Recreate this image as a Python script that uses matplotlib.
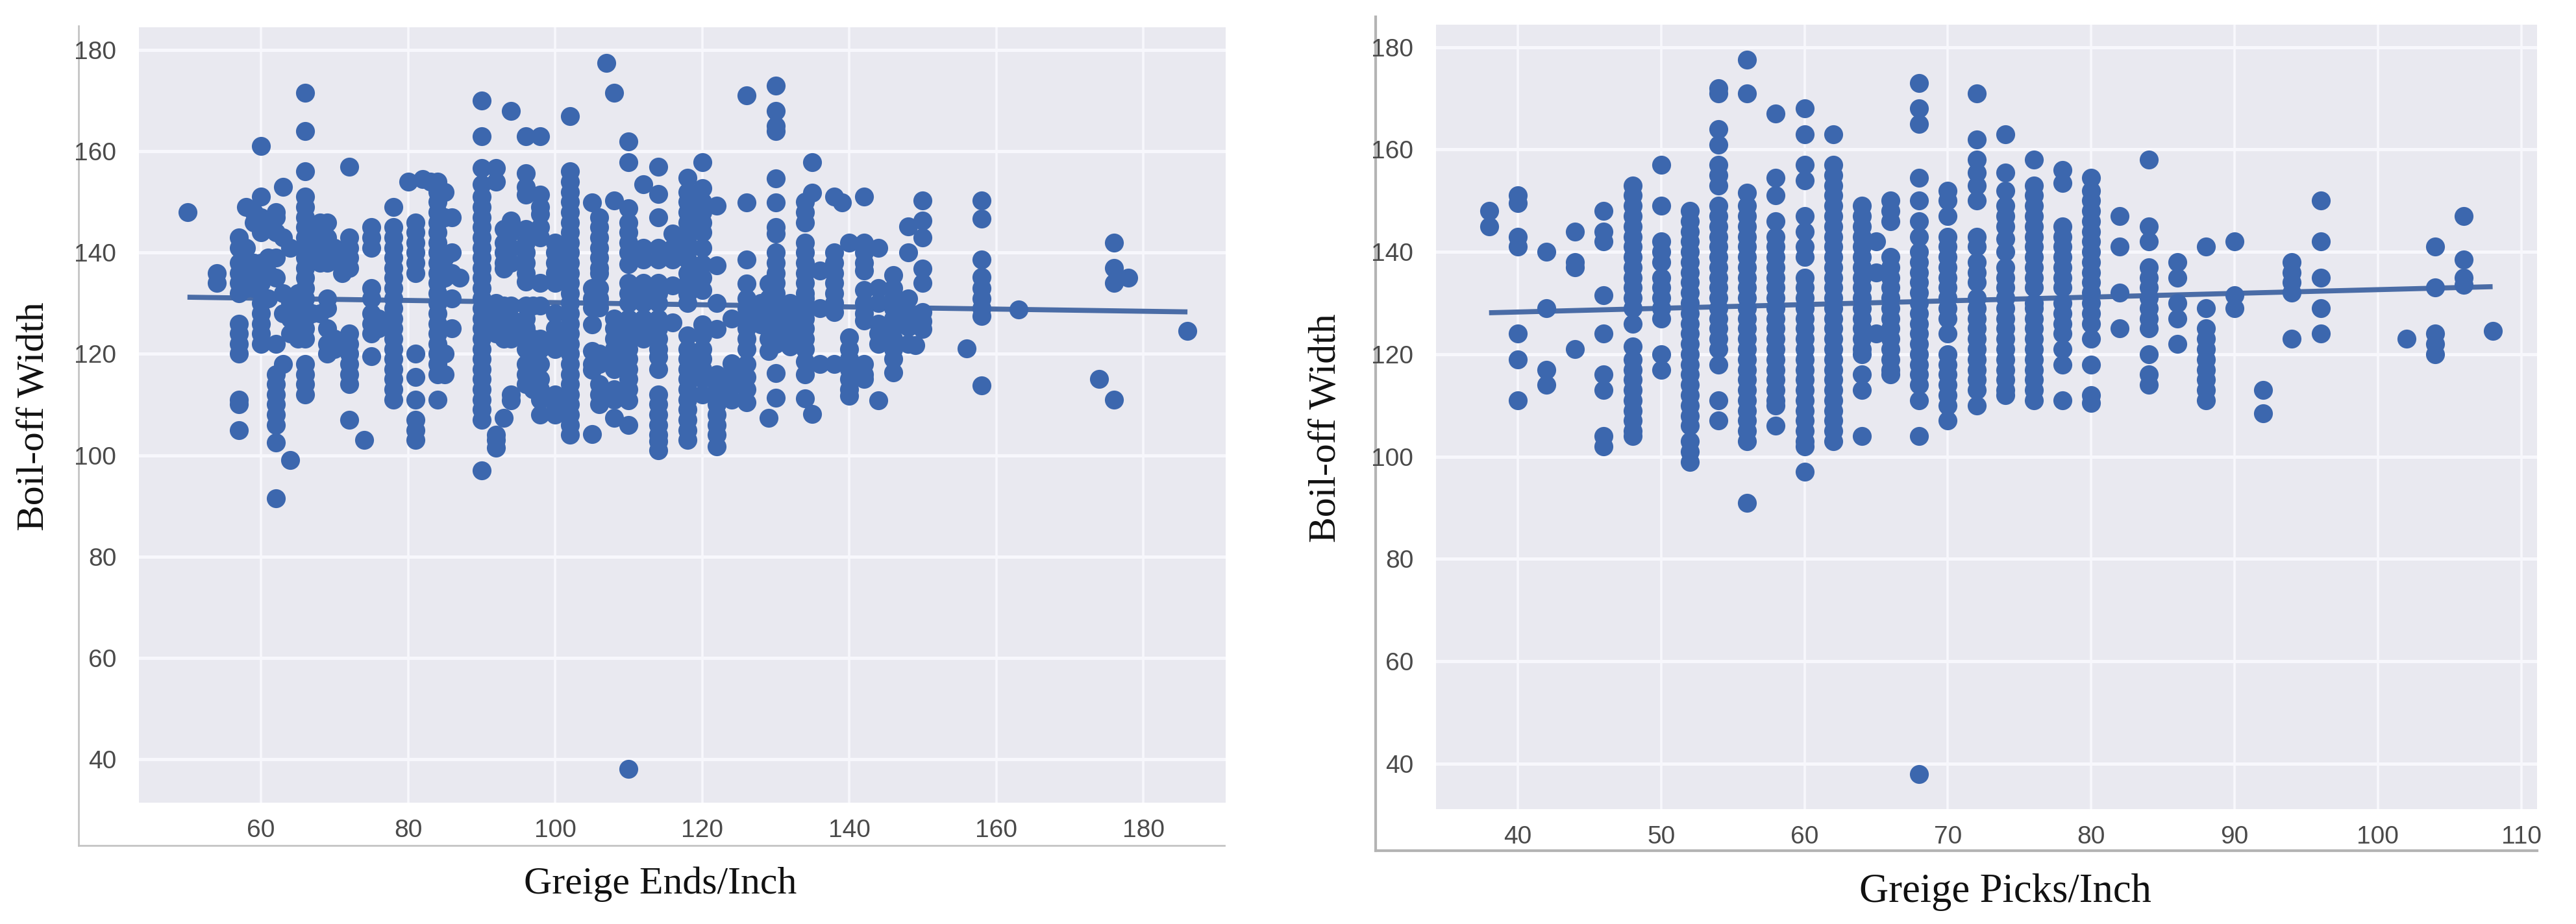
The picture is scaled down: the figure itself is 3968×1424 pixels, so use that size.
import matplotlib
matplotlib.use("Agg")
import matplotlib.pyplot as plt
import logging
logging.getLogger("matplotlib.font_manager").setLevel(logging.ERROR)

W, H = 3968, 1424
BLUE = "#3C67AE"
LINE = "#4A6CA6"
BG = "#E9E9F0"

ends_positions = [50, 54, 57, 58, 59, 60, 61, 62, 63, 64, 65, 66, 67, 68, 69, 70, 71, 72, 74, 75, 76,
                  78, 80, 81, 82, 83, 84, 85, 86, 87, 90, 92, 93, 94, 96, 97, 98, 100, 102, 105, 106,
                  107, 108, 110, 112, 114, 116, 118, 120, 122, 124, 126, 128, 129, 130, 132, 134, 135, 136, 138,
                  139, 140, 142, 144, 146, 148, 149, 150, 156, 158, 163, 174, 176, 178, 186]
ends_widths = [
    [148], [134, 136], [143, 141, 138, 136, 134, 132, 126, 124, 122, 120, 111, 110, 105], [149, 141, 135, 133],
    [148, 146, 138, 135, 133], [161, 151, 147, 144, 138, 136, 134, 130, 128, 126, 124, 122],
    [146, 139, 136, 131], [148, 147, 144, 139, 135, 122, 116, 114, 112, 110, 108, 106, 102.5, 91.5],
    [153, 143, 132, 128, 118], [141, 130, 127, 124, 99], [132, 128, 125, 123],
    [171.5, 164, 156, 151, 149, 147, 145, 143, 141, 139, 137, 135, 133, 131, 129, 127, 125, 123, 118, 116, 114, 112],
    [144, 128], [146, 144, 142, 140, 138, 128], [146, 143, 140, 138, 131, 129, 125, 122, 120], [141, 123, 121],
    [140, 138, 136], [157, 143, 141, 139, 137, 124, 122, 120, 118, 116, 114, 107], [103],
    [145, 143, 141, 133, 131, 128, 126, 124, 119.5], [127, 125],
    [149, 145, 143, 141, 139, 137, 135, 133, 131, 129, 127, 125, 123, 121, 119, 117, 115, 113, 111], [154],
    [146, 144, 142, 140, 138, 136, 120, 115.5, 111, 107, 105, 103], [154.5], [154],
    [154, 152, 150, 148, 146, 144, 142, 140, 138, 136, 134, 132, 130, 128, 126, 124, 122, 120, 118, 116, 111],
    [152, 147, 139, 135, 120, 116], [147, 140, 136, 131, 125], [135],
    [170, 163, 156.7, 153.5, 151, 149, 147, 145, 143, 141, 139, 137, 135, 133, 131, 129, 127, 125, 123, 121, 119, 117, 115, 113, 111, 109, 107, 97],
    [156.7, 154, 130, 128, 126, 124, 104, 103, 101.5],
    [144.6, 142, 140, 138, 136.9, 129.5, 127, 125, 123, 107.4],
    [168, 146.3, 144, 141, 138, 129.5, 127, 125, 123, 112, 110.8],
    [163, 155.7, 153, 151.4, 144.6, 142, 140, 138, 136, 134.3, 129.5, 127, 125, 123, 121, 118, 116, 114],
    [129.5, 123, 121, 117, 115, 113],
    [163, 151.4, 149, 147.6, 145, 143, 134, 129.5, 123, 121, 118, 115, 113, 111, 108],
    [142, 140, 138, 136, 134, 128, 125, 123, 121, 112, 110, 108],
    [167, 156, 154, 152, 150, 148, 146, 144, 142, 140, 138, 136, 134, 132, 130, 128, 126, 124, 122, 120, 118, 116, 114, 112, 110, 108, 106, 104],
    [149.9, 133, 131, 129.2, 125.8, 120.6, 118, 116.8, 104.2],
    [147, 145, 143, 141, 139, 137, 136, 133, 131, 129.2, 120, 118, 114, 112, 110],
    [177.5],
    [171.5, 150.3, 127, 125, 123, 121, 119, 117, 113, 111, 107.4],
    [162, 157.8, 148.8, 146, 144, 142, 140, 137.7, 134, 132, 130, 127, 125, 123, 121, 119, 117, 115, 113, 110.8, 106, 38],
    [153.5, 141, 138.6, 134, 132, 130, 127, 125, 123],
    [157, 151.6, 146.9, 141, 138.6, 134, 132, 130, 127, 125, 123, 121, 119.4, 117, 112, 110, 108, 106, 104, 102.7, 101],
    [143.7, 141, 138.6, 133.5, 126.2],
    [154.8, 152, 150, 148, 146, 144, 142, 140.3, 138.6, 136, 134, 131.8, 130, 123.6, 121, 119, 117, 115, 113, 111, 109, 107, 105, 103],
    [157.8, 152.7, 150, 148, 146, 144, 141, 137.7, 135, 132.6, 125.8, 123.6, 121, 119, 117, 115, 112],
    [149.3, 137.5, 130, 124.9, 116, 114, 112, 110, 108, 106, 104, 101.8],
    [127, 118.1, 116, 113.8, 111],
    [171, 149.9, 138.6, 133.9, 131, 129, 127, 125, 123, 121, 118, 115.5, 113, 110.4],
    [130, 128, 125.8],
    [133.9, 131, 129, 127, 125, 123, 120.6, 107.4],
    [173, 168, 165, 164, 154.6, 149.9, 145, 143.7, 140, 138, 136, 134, 132, 130, 128, 126, 124, 122, 116.2, 111.4],
    [130, 128, 126, 124, 121.5],
    [150, 148, 146, 142, 140, 138, 136, 134, 132, 130.9, 129, 127, 125, 123, 121, 118.5, 116, 111.2],
    [157.8, 151.8, 108.2],
    [136.5, 129, 118],
    [151, 140, 138, 136, 134, 132, 130, 128.3, 118],
    [149.9],
    [142, 123.2, 121, 119, 118, 117, 115, 113, 111.7],
    [151, 142, 140, 138, 136.5, 132.6, 130, 128, 126.6, 118, 116, 115],
    [141, 133, 130, 126, 124, 122, 110.8],
    [135.6, 133, 131, 129, 127, 125, 123, 121, 119, 116.4],
    [145.2, 140, 130.9, 128, 125.3, 122],
    [121.7],
    [150.3, 146.3, 143, 136.9, 134, 128.3, 126.5, 124.9],
    [121.1],
    [150.3, 146.7, 138.6, 135.2, 133, 130.9, 129, 127.5, 113.8],
    [128.8], [115], [142, 137, 134, 111], [135], [124.6],
]

picks_positions = [38, 40, 42, 44, 46, 48, 50, 52, 54, 56, 58, 60, 62, 64, 65, 66, 68, 70, 72, 74, 76, 78,
                   80, 82, 84, 86, 88, 90, 92, 94, 96, 102, 104, 106, 108]
picks_widths = [
    [145, 148], [149.5, 151, 143, 141, 124, 119, 111], [140, 129, 117, 114], [144, 138, 137, 121],
    [148, 144, 142, 131.5, 124, 116, 113, 104, 102],
    [153, 151, 149, 147, 145, 143, 141, 139, 137, 135, 133, 131, 129, 126, 121.5, 119, 117, 115, 113, 111, 109, 107, 105, 104],
    [157, 149, 142, 140, 138, 135, 133, 131, 129, 127, 120, 117],
    [148, 146, 144, 142, 140, 138, 136, 134, 132, 130, 128, 126, 124, 122, 120, 118, 116, 114, 112, 110, 108, 106, 103, 101, 99],
    [171, 172, 164, 161, 157, 155, 153, 149, 147, 145, 143, 141, 139, 137, 135, 133, 131, 129, 127, 125, 123, 121, 118, 111, 107],
    [177.5, 171, 151.5, 149, 147, 145, 143, 141, 139, 137, 135, 133, 131, 129, 127, 125, 123, 121, 119, 117, 115, 113, 111, 109, 107, 105, 103, 91],
    [167, 154.5, 151, 146, 143, 141, 139, 137, 135, 133, 131, 129, 127, 125, 123, 121, 119, 117, 115, 113, 111, 110, 106],
    [168, 163, 157, 154, 147, 144, 141, 139, 135, 133, 131, 129, 127, 125, 123, 121, 119, 117, 115, 113, 111, 109, 107, 105, 103, 102, 97],
    [163, 157, 155, 153, 151, 149, 147, 145, 143, 141, 139, 137, 135, 133, 131, 129, 127, 125, 123, 121, 119, 117, 115, 113, 111, 109, 107, 105, 103],
    [149, 147, 145, 143, 141, 139, 137, 135, 133, 131, 129, 127, 125, 123, 121, 120, 116, 113, 104],
    [142, 136, 124],
    [150, 148, 146, 139, 137, 135, 133, 131, 129, 127, 125, 123, 121, 119, 117, 116],
    [173, 168, 165, 154.5, 150, 146, 143, 140, 138, 136, 134, 132, 130, 128, 126, 124, 122, 120, 118, 116, 114, 111, 104, 38],
    [152, 150, 147, 143, 141, 139, 137, 135, 133, 131, 129, 127, 124, 120, 118, 116, 114, 112, 110, 107],
    [171, 162, 158, 155.5, 153, 150, 143, 141, 138, 136, 134, 131, 129, 127, 125, 123, 121, 119, 117, 115, 113, 110],
    [163, 155.5, 152, 149, 147, 145, 142.5, 140, 137, 135, 133, 131, 129, 127, 125, 123, 121, 119, 117, 115, 113, 112],
    [158, 153, 151, 149, 147, 145, 143, 141, 139, 137, 135, 133, 130, 129, 127, 125, 123, 121, 119, 117, 115, 113, 111],
    [156, 153.5, 145, 143, 141, 139, 137, 135, 133, 130, 128, 126, 124, 121, 118, 111],
    [154.5, 152, 150, 148, 146, 144, 142, 140, 138, 136, 134, 132, 130, 128, 126, 123, 118, 112, 110.5],
    [147, 141, 132, 125], [158, 145, 142, 137, 135, 133, 131, 129, 127, 125, 120, 116, 114],
    [138, 135, 130, 127, 122], [141, 129, 125, 123, 121, 119, 117, 115, 113, 111], [142, 131.5, 129],
    [113, 108.5], [138, 136, 134, 132, 123], [150, 142, 135, 129, 124], [123], [141, 133, 124, 122, 120],
    [147, 138.5, 135, 133.5], [124.5],
]

ends_fit_x = [50, 186]
ends_fit_y = [131.2, 128.3]
picks_fit_x = [38, 108]
picks_fit_y = [128.1, 133.2]

ends_xticks = [60, 80, 100, 120, 140, 160, 180]
picks_xticks = [40, 50, 60, 70, 80, 90, 100, 110]
width_yticks = [40, 60, 80, 100, 120, 140, 160, 180]

plt.rcParams["font.family"] = ["Liberation Sans Narrow", "Liberation Sans", "DejaVu Sans"]
fig = plt.figure(figsize=(W / 100, H / 100), dpi=100, facecolor="white")


def rect(l, t, r, b):
    return [l / W, 1 - b / H, (r - l) / W, (b - t) / H]


def panel(frame_box, bg_box, xlim, ylim, positions, widths, fit_x, fit_y, xticks, xlabel, xlabel_c, ylabel_c, spine_lw, spine_c, xlabel_size):
    frame = fig.add_axes(rect(*frame_box), facecolor="none", zorder=0)
    frame.set_xticks([])
    frame.set_yticks([])
    for s in ("top", "right"):
        frame.spines[s].set_visible(False)
    for s in ("left", "bottom"):
        frame.spines[s].set_linewidth(spine_lw)
        frame.spines[s].set_color(spine_c)

    ax = fig.add_axes(rect(*bg_box), facecolor=BG, zorder=1)
    xs, ys = [], []
    for p, col in zip(positions, widths):
        xs.extend([p] * len(col))
        ys.extend(col)
    ax.plot(fit_x, fit_y, color=LINE, lw=5.6, solid_capstyle="butt", zorder=2)
    ax.scatter(xs, ys, s=440, color=BLUE, linewidths=0, zorder=3)
    ax.set_xlim(*xlim)
    ax.set_ylim(*ylim)
    ax.set_xticks(xticks)
    ax.set_yticks(width_yticks)
    ax.grid(True, axis="y", color="#F7F7FC", lw=3.6)
    ax.grid(True, axis="x", color="#F7F7FC", lw=2.6)
    ax.set_axisbelow(True)
    for s in ax.spines.values():
        s.set_visible(False)
    ax.tick_params(axis="both", length=0, labelsize=28, labelcolor="#4a4a4a")
    ax.tick_params(axis="x", pad=18)
    ax.tick_params(axis="y", pad=25)
    ax.set_xlabel(xlabel, family="Liberation Serif", fontsize=xlabel_size, color="#111111")
    ax.set_ylabel("Boil-off Width", family="Liberation Serif", fontsize=43, color="#111111")
    l, t, r, b = bg_box
    ax.xaxis.set_label_coords((xlabel_c[0] - l) / (r - l), (b - xlabel_c[1]) / (b - t))
    ax.yaxis.set_label_coords((ylabel_c[0] - l) / (r - l), (b - ylabel_c[1]) / (b - t))
    ax.xaxis.label.set_verticalalignment("center")
    ax.yaxis.label.set_verticalalignment("center")


panel((121, 40, 1886, 1303), (214, 42, 1888, 1237), (43.4, 191.2), (31.4, 184.5),
      ends_positions, ends_widths, ends_fit_x, ends_fit_y, ends_xticks,
      "Greige Ends/Inch", (1017, 1363), (53, 642), 2.0, "#C4C4C4", 43)
panel((2119, 26, 3908, 1311), (2212, 38, 3908, 1247), (34.3, 111.1), (31.1, 184.4),
      picks_positions, picks_widths, picks_fit_x, picks_fit_y, picks_xticks,
      "Greige Picks/Inch", (3089, 1375), (2043, 660), 3.0, "#B4B4B4", 45)

fig.savefig("out.png", dpi=100, facecolor="white")
